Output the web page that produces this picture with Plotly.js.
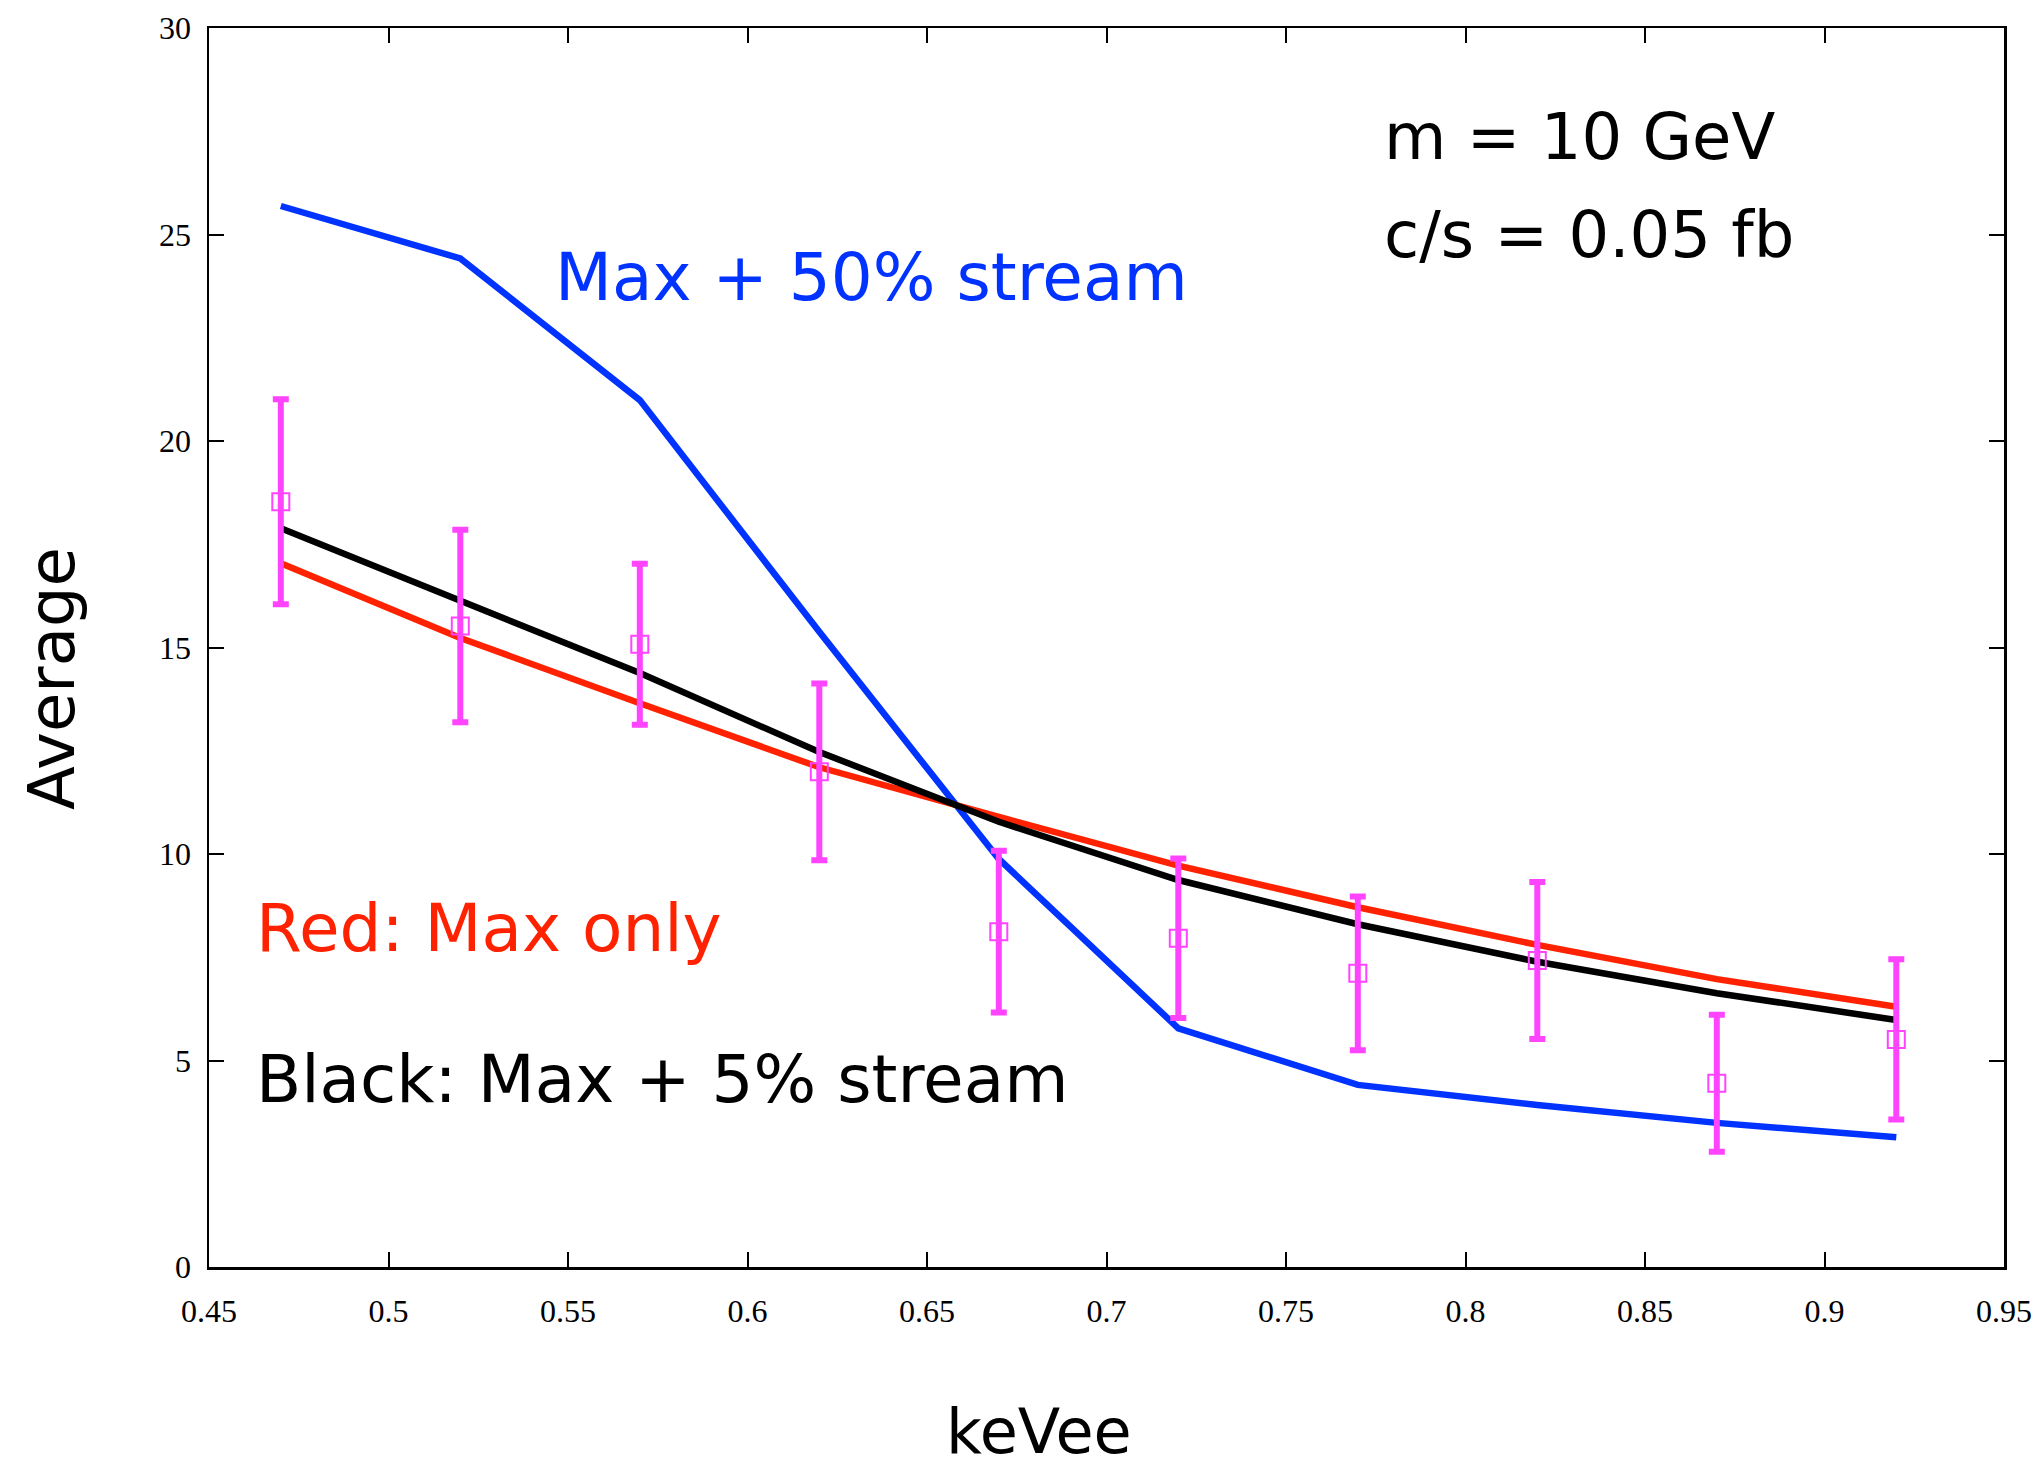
<!DOCTYPE html>
<html>
<head>
<meta charset="utf-8">
<script src="https://cdn.plot.ly/plotly-3.0.1.min.js"></script>
<style>
  html, body { margin: 0; padding: 0; background: #ffffff; }
  #chart { width: 2044px; height: 1470px; }
</style>
</head>
<body>
<div id="chart"></div>
<script>
// keVee bin centres
const keVee = [0.47, 0.52, 0.57, 0.62, 0.67, 0.72, 0.77, 0.82, 0.87, 0.92];

// Measured averages (magenta squares) and their error bars
const dataAverage = [18.53, 15.52, 15.08, 11.99, 8.12, 7.96, 7.11, 7.42, 4.45, 5.51];
const dataError   = [2.48, 2.33, 1.95, 2.14, 1.96, 1.93, 1.86, 1.90, 1.66, 1.94];

// Model curves
const maxOnly         = [17.04, 15.23, 13.65, 12.10, 10.90, 9.72, 8.71, 7.80, 6.97, 6.30];   // red
const max5Stream      = [17.89, 16.15, 14.38, 12.47, 10.78, 9.37, 8.30, 7.39, 6.63, 5.98];   // black
const max50Stream     = [25.69, 24.42, 20.99, 15.38, 9.88, 5.78, 4.41, 3.92, 3.49, 3.14];    // blue

// Axis settings
const xRange = [0.45, 0.95];
const yRange = [0, 30];

const labelFont = "DejaVu Sans, Noto Sans, sans-serif";
const tickFont = "Liberation Serif, Times New Roman, serif";

const traces = [
  {
    x: keVee, y: max50Stream, type: "scatter", mode: "lines",
    line: { color: "#0033ff", width: 6.5 }, name: "Max + 50% stream"
  },
  {
    x: keVee, y: maxOnly, type: "scatter", mode: "lines",
    line: { color: "#ff2200", width: 6.5 }, name: "Max only"
  },
  {
    x: keVee, y: max5Stream, type: "scatter", mode: "lines",
    line: { color: "#000000", width: 6.5 }, name: "Max + 5% stream"
  },
  {
    x: keVee, y: dataAverage, type: "scatter", mode: "markers",
    marker: { symbol: "square-open", size: 17, color: "#ff44ff", line: { color: "#ff44ff", width: 2 } },
    error_y: { type: "data", array: dataError, visible: true, color: "#ff44ff", thickness: 6, width: 8 },
    name: "Data"
  }
];

const axisCommon = {
  showline: true, linecolor: "#000000", linewidth: 2.5, mirror: "ticks",
  ticks: "inside", ticklen: 15, tickwidth: 2, tickcolor: "#000000",
  showgrid: false, zeroline: false,
  tickfont: { family: tickFont, size: 32, color: "#000000" }
};

const layout = {
  width: 2044, height: 1470,
  paper_bgcolor: "#ffffff", plot_bgcolor: "#ffffff",
  margin: { l: 209, r: 40, t: 28, b: 203 },
  showlegend: false,
  xaxis: Object.assign({}, axisCommon, {
    range: xRange, dtick: 0.05, tick0: 0.45, ticklabelstandoff: 14
  }),
  yaxis: Object.assign({}, axisCommon, {
    range: yRange, dtick: 5, tick0: 0, ticklabelstandoff: 9
  }),
  annotations: [
    { text: "keVee", xref: "paper", yref: "paper", x: 0.4624, y: -0.133, xanchor: "center", yanchor: "middle",
      showarrow: false, font: { family: labelFont, size: 62, color: "#000000" } },
    { text: "Average", xref: "paper", yref: "paper", x: -0.0875, y: 0.4754, xanchor: "center", yanchor: "middle",
      textangle: -90, showarrow: false, font: { family: labelFont, size: 64, color: "#000000" } },
    { text: "m = 10 GeV", xref: "paper", yref: "paper", x: 0.6535, y: 0.912, xanchor: "left", yanchor: "middle",
      showarrow: false, font: { family: labelFont, size: 64, color: "#000000" } },
    { text: "c/s = 0.05 fb", xref: "paper", yref: "paper", x: 0.6535, y: 0.833, xanchor: "left", yanchor: "middle",
      showarrow: false, font: { family: labelFont, size: 64, color: "#000000" } },
    { text: "Max + 50% stream", xref: "paper", yref: "paper", x: 0.1915, y: 0.799, xanchor: "left", yanchor: "middle",
      showarrow: false, font: { family: labelFont, size: 66, color: "#0033ff" } },
    { text: "Red: Max only", xref: "paper", yref: "paper", x: 0.025, y: 0.273, xanchor: "left", yanchor: "middle",
      showarrow: false, font: { family: labelFont, size: 66, color: "#ff2200" } },
    { text: "Black: Max + 5% stream", xref: "paper", yref: "paper", x: 0.025, y: 0.151, xanchor: "left", yanchor: "middle",
      showarrow: false, font: { family: labelFont, size: 66, color: "#000000" } }
  ]
};

Plotly.newPlot("chart", traces, layout, { staticPlot: true, displayModeBar: false });
</script>
</body>
</html>
